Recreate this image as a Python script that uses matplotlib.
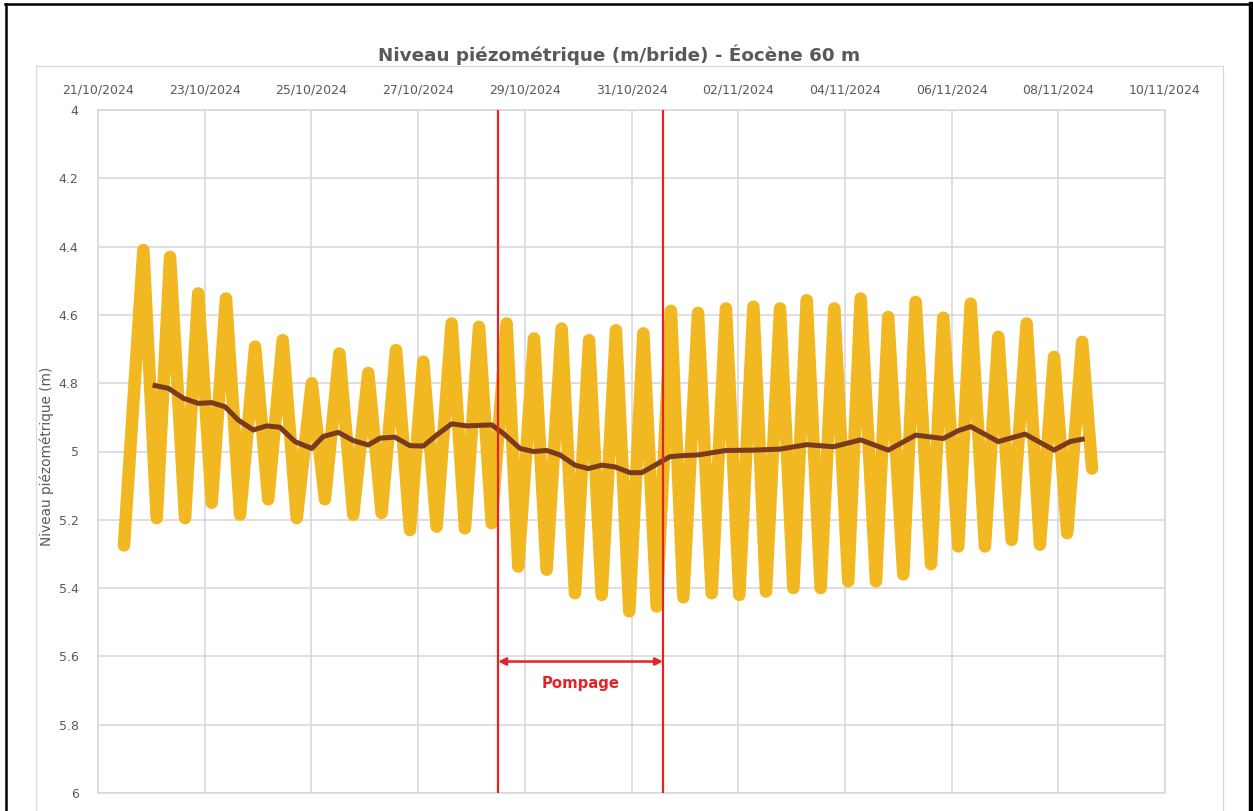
import pandas as pd
import matplotlib
matplotlib.use("Agg")
import matplotlib.pyplot as plt
from matplotlib.patches import Rectangle
from matplotlib.lines import Line2D

# Piezometric level, peaks and troughs of the tidal signal
tide_times = [
    "2024-10-21 11:40", "2024-10-21 20:25", "2024-10-22 02:25", "2024-10-22 08:25",
    "2024-10-22 15:10", "2024-10-22 21:05", "2024-10-23 03:10", "2024-10-23 09:35",
    "2024-10-23 15:55", "2024-10-23 22:40", "2024-10-24 04:35", "2024-10-24 11:05",
    "2024-10-24 17:25", "2024-10-25 00:10", "2024-10-25 06:05", "2024-10-25 12:35",
    "2024-10-25 18:50", "2024-10-26 01:35", "2024-10-26 07:35", "2024-10-26 14:05",
    "2024-10-26 20:20", "2024-10-27 02:20", "2024-10-27 08:20", "2024-10-27 15:05",
    "2024-10-27 21:05", "2024-10-28 03:25", "2024-10-28 09:05", "2024-10-28 15:50",
    "2024-10-28 21:05", "2024-10-29 04:10", "2024-10-29 09:50", "2024-10-29 16:35",
    "2024-10-29 22:35", "2024-10-30 04:55", "2024-10-30 10:35", "2024-10-30 17:00",
    "2024-10-30 23:00", "2024-10-31 05:20", "2024-10-31 11:20", "2024-10-31 17:45",
    "2024-10-31 23:20", "2024-11-01 05:55", "2024-11-01 12:05", "2024-11-01 18:30",
    "2024-11-02 00:30", "2024-11-02 06:50", "2024-11-02 12:30", "2024-11-02 18:50",
    "2024-11-03 00:50", "2024-11-03 06:50", "2024-11-03 13:05", "2024-11-03 19:15",
    "2024-11-04 01:30", "2024-11-04 07:05", "2024-11-04 14:00", "2024-11-04 19:30",
    "2024-11-05 02:15", "2024-11-05 07:50", "2024-11-05 14:45", "2024-11-05 20:15",
    "2024-11-06 03:00", "2024-11-06 08:35", "2024-11-06 15:00", "2024-11-06 21:00",
    "2024-11-07 03:00", "2024-11-07 09:45", "2024-11-07 15:45", "2024-11-07 22:05",
    "2024-11-08 04:00", "2024-11-08 10:45", "2024-11-08 15:10",
]
tide_levels = [
    5.275, 4.410, 5.195, 4.430, 5.195, 4.537, 5.150, 4.552,
    5.185, 4.693, 5.140, 4.674, 5.195, 4.800, 5.140, 4.713,
    5.185, 4.770, 5.180, 4.703, 5.230, 4.737, 5.220, 4.625,
    5.225, 4.635, 5.210, 4.625, 5.337, 4.669, 5.346, 4.640,
    5.415, 4.674, 5.420, 4.645, 5.468, 4.654, 5.454, 4.588,
    5.427, 4.594, 5.415, 4.581, 5.420, 4.576, 5.410, 4.581,
    5.400, 4.557, 5.400, 4.581, 5.380, 4.552, 5.380, 4.606,
    5.360, 4.562, 5.330, 4.608, 5.278, 4.567, 5.278, 4.664,
    5.259, 4.625, 5.273, 4.723, 5.239, 4.679, 5.050,
]

# Moving average
avg_times = [
    "2024-10-22 01:40", "2024-10-22 07:40", "2024-10-22 14:20", "2024-10-22 21:05",
    "2024-10-23 03:10", "2024-10-23 09:10", "2024-10-23 15:05", "2024-10-23 21:50",
    "2024-10-24 03:55", "2024-10-24 09:50", "2024-10-24 16:35", "2024-10-25 00:10",
    "2024-10-25 05:20", "2024-10-25 12:05", "2024-10-25 18:50", "2024-10-26 01:35",
    "2024-10-26 06:50", "2024-10-26 13:35", "2024-10-26 20:20", "2024-10-27 02:20",
    "2024-10-27 08:20", "2024-10-27 15:05", "2024-10-27 21:50", "2024-10-28 09:05",
    "2024-10-28 14:20", "2024-10-28 21:50", "2024-10-29 03:50", "2024-10-29 09:50",
    "2024-10-29 15:50", "2024-10-29 22:35", "2024-10-30 04:35", "2024-10-30 10:35",
    "2024-10-30 16:35", "2024-10-30 23:20", "2024-10-31 04:35", "2024-10-31 10:35",
    "2024-10-31 17:20", "2024-10-31 23:20", "2024-11-01 06:05", "2024-11-01 18:30",
    "2024-11-02 06:50", "2024-11-02 18:50", "2024-11-03 06:50", "2024-11-03 18:50",
    "2024-11-04 07:05", "2024-11-04 19:30", "2024-11-05 07:50", "2024-11-05 20:15",
    "2024-11-06 03:00", "2024-11-06 08:35", "2024-11-06 21:00", "2024-11-07 09:00",
    "2024-11-07 22:05", "2024-11-08 05:15", "2024-11-08 10:45",
]
avg_levels = [
    4.807, 4.815, 4.844, 4.859, 4.857, 4.869, 4.908, 4.937,
    4.925, 4.929, 4.971, 4.991, 4.956, 4.944, 4.968, 4.981,
    4.961, 4.958, 4.983, 4.984, 4.952, 4.919, 4.925, 4.922,
    4.947, 4.991, 5.000, 4.997, 5.010, 5.040, 5.050, 5.040,
    5.045, 5.062, 5.062, 5.040, 5.015, 5.012, 5.010, 4.997,
    4.996, 4.993, 4.980, 4.986, 4.966, 4.996, 4.952, 4.962,
    4.939, 4.927, 4.971, 4.949, 4.996, 4.971, 4.964,
]

pump_start = "2024-10-28 12:00"
pump_end = "2024-10-31 14:10"
pump_label = "Pompage"

y_ticks = [4, 4.2, 4.4, 4.6, 4.8, 5, 5.2, 5.4, 5.6, 5.8, 6]
x_ticks = pd.date_range("2024-10-21", "2024-11-10", freq="2D")

title = "Niveau piézométrique (m/bride) - Éocène 60 m"
y_label = "Niveau piézométrique (m)"

grey_txt = "#595959"
grid_col = "#d9d9d9"
yellow = "#f2b822"
brown = "#7a3a1c"
red = "#e02428"

W, H = 1253, 811
fig = plt.figure(figsize=(W / 100, H / 100), dpi=100)
ax = fig.add_axes([98 / W, 1 - 793 / H, (1165 - 98) / W, (793 - 110) / H])

t_tide = pd.to_datetime(tide_times)
t_avg = pd.to_datetime(avg_times)
ax.plot(t_tide, tide_levels, color=yellow, lw=9, solid_joinstyle="round",
        solid_capstyle="round", zorder=3)
ax.plot(t_avg, avg_levels, color=brown, lw=3.6, solid_joinstyle="round", zorder=4)

t0, t1 = pd.Timestamp(pump_start), pd.Timestamp(pump_end)
ax.axvline(t0, color=red, lw=1.6, zorder=5)
ax.axvline(t1, color=red, lw=1.6, zorder=5)
ax.annotate("", xy=(t1, 5.615), xytext=(t0, 5.615),
            arrowprops=dict(arrowstyle="<|-|>", color=red, lw=1.8,
                            mutation_scale=11, shrinkA=0, shrinkB=0), zorder=6)
ax.text(t0 + (t1 - t0) / 2, 5.68, pump_label, color=red, fontsize=10.7,
        fontweight="bold", ha="center", va="center", zorder=6)

ax.set_xlim(pd.Timestamp("2024-10-21"), pd.Timestamp("2024-11-10"))
ax.set_ylim(6, 4)
ax.set_xticks(x_ticks)
ax.set_xticklabels([d.strftime("%d/%m/%Y") for d in x_ticks])
ax.set_yticks(y_ticks)
ax.set_yticklabels([f"{v:g}" for v in y_ticks])
ax.xaxis.tick_top()
ax.tick_params(axis="both", length=0, colors=grey_txt, labelsize=9)
ax.tick_params(axis="x", pad=10)
ax.tick_params(axis="y", pad=14)
ax.grid(True, color=grid_col, lw=1.2, zorder=0)
for s in ax.spines.values():
    s.set_color(grid_col)
    s.set_linewidth(1.2)
ax.set_axisbelow(True)

fig.text(47 / W, 1 - 456 / H, y_label, rotation=90, color=grey_txt, fontsize=9.8,
         ha="center", va="center")
fig.text(619 / W, 1 - 55 / H, title, color=grey_txt, fontsize=13.2,
         fontweight="bold", ha="center", va="center")

# outer chart frame and screenshot border
fig.add_artist(Rectangle((36 / W, -0.05), (1223 - 36) / W, (811 - 66) / H + 0.05,
                         transform=fig.transFigure, fill=False, ec=grid_col, lw=0.9))
fig.add_artist(Line2D([5 / W, 1], [1 - 4 / H, 1 - 4 / H], transform=fig.transFigure,
                      color="black", lw=1.8))
fig.add_artist(Line2D([6 / W, 6 / W], [0, 1 - 4 / H], transform=fig.transFigure,
                      color="black", lw=1.8))
fig.add_artist(Line2D([1250.5 / W, 1250.5 / W], [0, 1 - 4 / H], transform=fig.transFigure,
                      color="black", lw=3.2))

fig.savefig("out.png", dpi=100)
